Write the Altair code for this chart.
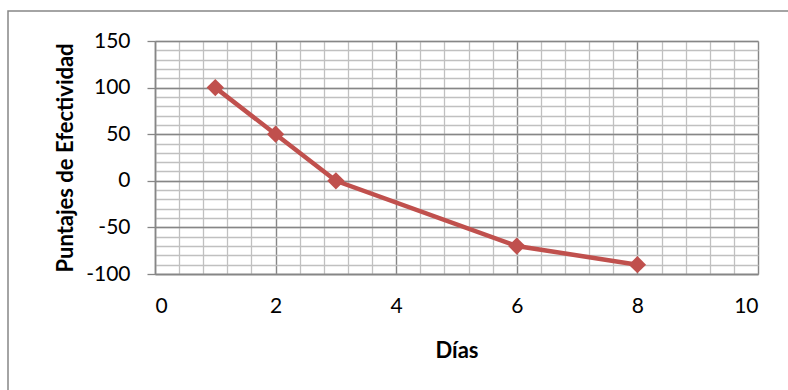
import altair as alt
import pandas as pd

# Series values
dias = [1, 2, 3, 6, 8]
puntajes = [100, 50, 0, -70, -90]

# Axis tick positions
x_major = [0, 2, 4, 6, 8, 10]
y_major = [-100, -50, 0, 50, 100, 150]
x_minor = [round(i * 0.4, 1) for i in range(26)]
y_minor = list(range(-100, 151, 10))

df = pd.DataFrame({"Días": dias, "Puntajes": puntajes})

FONT = "Lato"
DARK = "#868686"
LIGHT = "#c0c0c0"
RED = "#c0504d"

x_scale = alt.Scale(domain=[0, 10], nice=False, zero=False)
y_scale = alt.Scale(domain=[-100, 150], nice=False, zero=False)

base = alt.Chart(df)

# Minor grid (drawn first, underneath the major grid)
minor = base.mark_point(opacity=0).encode(
    x=alt.X("Días:Q", scale=x_scale,
            axis=alt.Axis(orient="bottom", values=x_minor, grid=True,
                          gridColor=LIGHT, gridWidth=1.3, labels=False,
                          ticks=False, domain=False, title=None)),
    y=alt.Y("Puntajes:Q", scale=y_scale,
            axis=alt.Axis(orient="left", values=y_minor, grid=True,
                          gridColor=LIGHT, gridWidth=1.3, labels=False,
                          ticks=False, domain=False, title=None)),
)

# Major grid, axes and the data line
line = base.mark_line(
    color=RED, strokeWidth=4.5,
    point=alt.OverlayMarkDef(shape="diamond", size=300, color=RED, filled=True, opacity=1),
).encode(
    x=alt.X("Días:Q", scale=x_scale,
            axis=alt.Axis(orient="bottom", values=x_major, grid=True,
                          gridColor=DARK, gridWidth=1.3, ticks=False,
                          domainColor=DARK, domainWidth=1.6,
                          labelFont=FONT, labelFontSize=21, labelColor="#000000",
                          labelPadding=21, labelExpr="'' + datum.value",
                          title="Días", titleFont=FONT, titleFontSize=22,
                          titleFontWeight="bold", titleColor="#000000",
                          titleY=83, titleBaseline="alphabetic")),
    y=alt.Y("Puntajes:Q", scale=y_scale,
            axis=alt.Axis(orient="left", values=y_major, grid=True,
                          gridColor=DARK, gridWidth=1.3, ticks=True,
                          tickColor=DARK, tickSize=8, tickWidth=1.3,
                          domainColor=DARK, domainWidth=1.6,
                          labelFont=FONT, labelFontSize=21, labelColor="#000000",
                          labelPadding=17, labelExpr="'' + datum.value",
                          title="Puntajes de Efectividad", titleFont=FONT,
                          titleFontSize=22, titleFontWeight="bold",
                          titleColor="#000000", titleX=-90,
                          titleBaseline="middle")),
)

# Outer chart frame
frame = alt.Chart(pd.DataFrame({"k": [0]})).mark_rect(
    fillOpacity=0, stroke=DARK, strokeWidth=1.5
).encode(
    x=alt.value(-147), x2=alt.value(660),
    y=alt.value(-30), y2=alt.value(380),
)

chart = alt.layer(frame, minor, line).resolve_axis(
    x="independent", y="independent"
).properties(
    width=603, height=233,
    autosize=alt.AutoSizeParams(type="none"),
    padding={"left": 155, "top": 41, "right": 30, "bottom": 116},
    background="#ffffff",
).configure_view(stroke=None)

chart.save("out.html", embed_options={"renderer": "svg", "actions": False})
